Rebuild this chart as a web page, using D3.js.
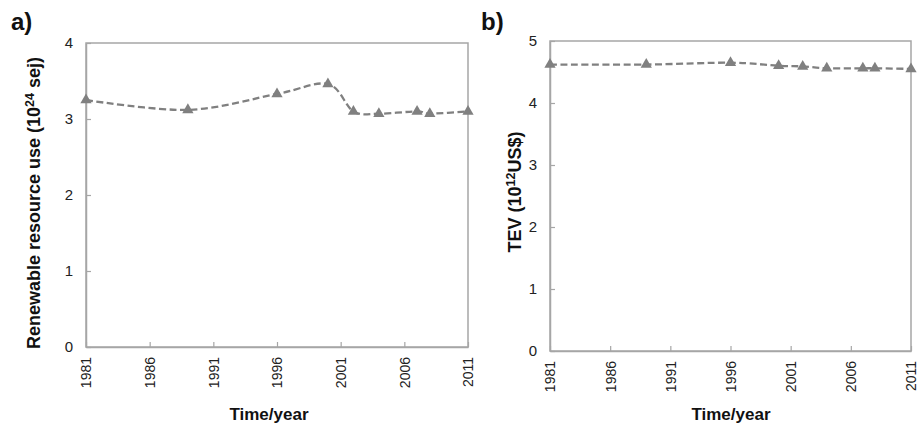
<!DOCTYPE html>
<html><head><meta charset="utf-8">
<script src="https://cdn.jsdelivr.net/npm/d3@7"></script>
<style>body{margin:0;background:#fff}svg{display:block}text{font-family:"Liberation Sans",Arial,sans-serif}</style>
</head><body>
<svg id="c" width="917" height="427"></svg>
<script>
const years = [1981, 1989, 1996, 2000, 2002, 2004, 2007, 2008, 2011];
const renewable = [3.25, 3.12, 3.33, 3.46, 3.10, 3.07, 3.10, 3.07, 3.10];
const tev = [4.62, 4.62, 4.65, 4.60, 4.59, 4.56, 4.56, 4.56, 4.55];
const xTicks = [1981, 1986, 1991, 1996, 2001, 2006, 2011];
const yTicksA = [0, 1, 2, 3, 4];
const yTicksB = [0, 1, 2, 3, 4, 5];

const svg = d3.select("#c");
const axisColor = "#a6a6a6";
const markColor = "#808080";

function panel(cfg) {
  const g = svg.append("g");
  const x = d3.scaleLinear().domain([1981, 2011]).range([cfg.left, cfg.right]);
  const y = d3.scaleLinear().domain([0, cfg.ymax]).range([cfg.bottom, cfg.top]);
  g.append("rect").attr("x", cfg.left).attr("y", cfg.top)
    .attr("width", cfg.right - cfg.left).attr("height", cfg.bottom - cfg.top)
    .attr("fill", "none").attr("stroke", axisColor).attr("stroke-width", 1.5);
  const xa = g.append("g").attr("transform", `translate(0,${cfg.bottom})`)
    .call(d3.axisBottom(x).tickValues(xTicks).tickSizeInner(-5).tickSizeOuter(0).tickPadding(0).tickFormat(d3.format("d")));
  xa.select(".domain").attr("stroke", axisColor).attr("stroke-width", 1.5);
  xa.selectAll(".tick line").attr("stroke", axisColor).attr("stroke-width", 1.2);
  xa.selectAll(".tick text").attr("transform", "rotate(-90)")
    .attr("x", -10).attr("y", 0).attr("dy", "0.35em").attr("text-anchor", "end")
    .attr("font-size", 14).attr("fill", "#222").attr("font-family", "Liberation Sans, Arial, sans-serif");
  const ya = g.append("g").attr("transform", `translate(${cfg.left},0)`)
    .call(d3.axisLeft(y).tickValues(cfg.yticks).tickSizeInner(-5).tickSizeOuter(0).tickPadding(13).tickFormat(d3.format("d")));
  ya.select(".domain").attr("stroke", axisColor).attr("stroke-width", 1.5);
  ya.selectAll(".tick line").attr("stroke", axisColor).attr("stroke-width", 1.2);
  ya.selectAll(".tick text").attr("font-size", 15).attr("fill", "#222").attr("font-family", "Liberation Sans, Arial, sans-serif");
  const pts = years.map((yr, i) => [x(yr), y(cfg.values[i])]);
  g.append("path").attr("d", d3.line().curve(d3.curveCardinal.tension(0))(pts))
    .attr("fill", "none").attr("stroke", markColor).attr("stroke-width", 2.3)
    .attr("stroke-dasharray", "7,3.5");
  g.selectAll(".m").data(pts).join("path")
    .attr("d", d3.symbol(d3.symbolTriangle, 55)())
    .attr("transform", d => `translate(${d[0]},${d[1]})`)
    .attr("fill", markColor);
  g.append("text").attr("x", cfg.tx).attr("y", 420).attr("text-anchor", "middle")
    .attr("font-size", 17).attr("font-weight", "bold").attr("fill", "#111").text("Time/year");
  const yt = g.append("text").attr("transform", `translate(${cfg.ytx},${cfg.yty}) rotate(-90)`)
    .attr("text-anchor", "middle").attr("font-size", cfg.ytfs).attr("font-weight", "bold").attr("fill", "#111");
  yt.append("tspan").text(cfg.yt[0]);
  yt.append("tspan").attr("font-size", cfg.ytfs * 0.7).attr("dy", "-0.45em").text(cfg.yt[1]);
  yt.append("tspan").attr("dy", "0.3em").text(cfg.yt[2]);
  g.append("text").attr("x", cfg.lx).attr("y", 30).attr("font-size", 24).attr("font-weight", "bold")
    .attr("fill", "#111").text(cfg.label);
}

panel({left: 86, right: 468, top: 43, bottom: 347, ymax: 4, yticks: yTicksA, values: renewable,
  tx: 269, ytx: 40, yty: 203, ytfs: 18, yt: ["Renewable resource use (10", "24", " sej)"], lx: 11, label: "a)"});
panel({left: 550, right: 911, top: 41, bottom: 351, ymax: 5, yticks: yTicksB, values: tev,
  tx: 731, ytx: 521, yty: 192, ytfs: 18, yt: ["TEV (10", "12", "US$)"], lx: 481, label: "b)"});
</script>
</body></html>
